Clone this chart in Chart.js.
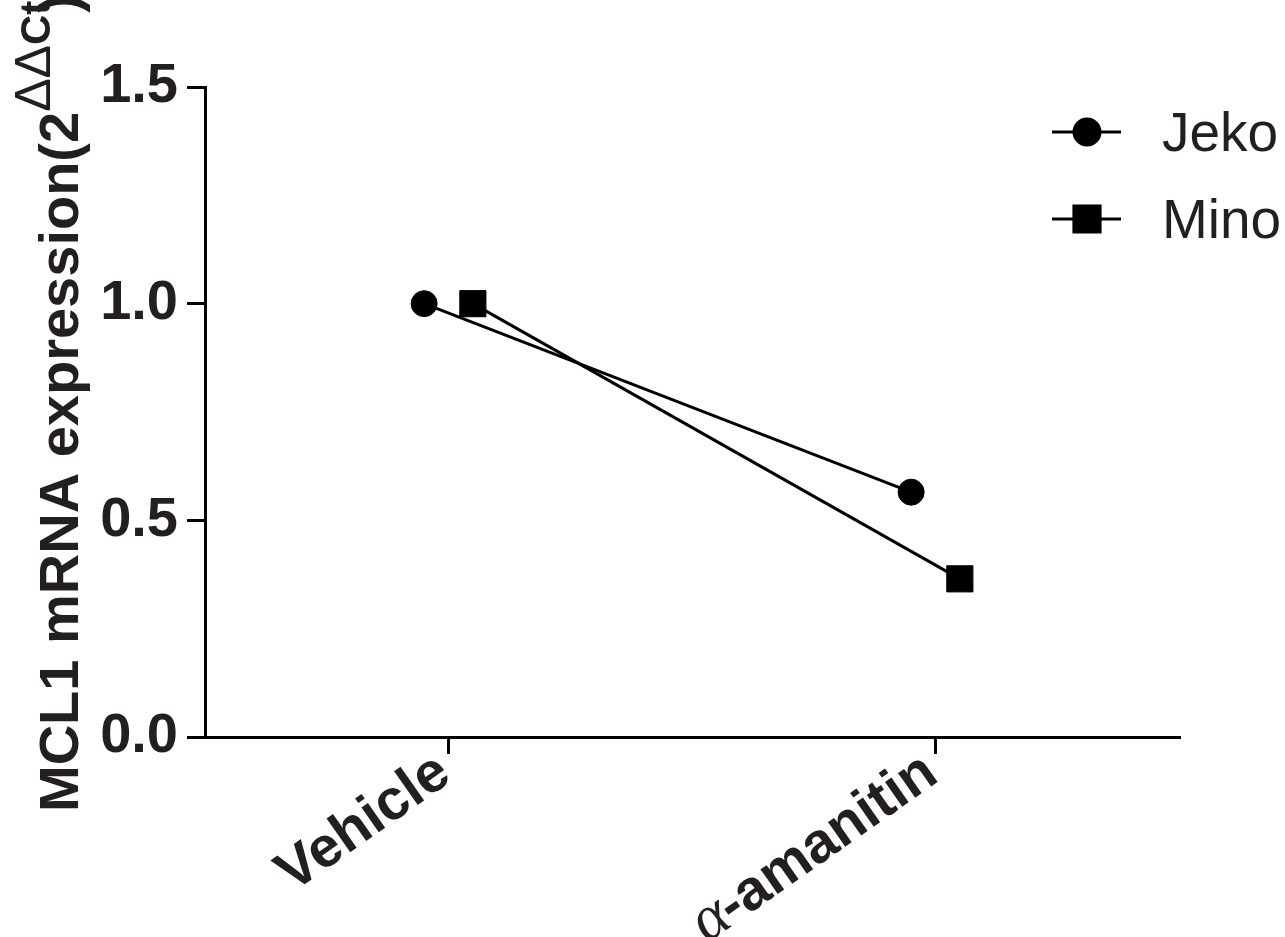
<!DOCTYPE html>
<html>
<head>
<meta charset="utf-8">
<title>MCL1 mRNA expression</title>
<script src="https://cdn.jsdelivr.net/npm/chart.js@4.4.1/dist/chart.umd.min.js"></script>
<style>
  html, body { margin: 0; padding: 0; background: #ffffff; }
  #wrap { width: 1285px; height: 937px; }
</style>
</head>
<body>
<div id="wrap"><canvas id="chart" width="1285" height="937"></canvas></div>
<script>
// Treatment groups along the x axis
const categories = ['Vehicle', 'α-amanitin'];
// Relative MCL1 mRNA expression (2^-ΔΔCt) per cell line
const seriesNames = ['Jeko', 'Mino'];
const jekoValues = [1.0, 0.565];
const minoValues = [1.0, 0.365];
// Y axis tick values
const yTickValues = [0.0, 0.5, 1.0, 1.5];

// Horizontal nudge so the two cell lines do not overlap at one category
const DODGE = 0.05;
const INK = '#231f20';
const SANS = '"Liberation Sans", Arial, Helvetica, sans-serif';

function toPoints(values, shift) {
  return values.map((v, i) => ({ x: i + shift, y: v }));
}

// Rotated y-axis title with a superscript exponent
const yTitlePlugin = {
  id: 'yTitle',
  afterDraw(chart) {
    const ctx = chart.ctx;
    ctx.save();
    ctx.translate(78, 812);
    ctx.rotate(-Math.PI / 2);
    ctx.fillStyle = INK;
    ctx.textBaseline = 'alphabetic';
    ctx.textAlign = 'left';
    let x = 0;
    const main = 'bold 56px ' + SANS;
    const supReg = '50px ' + SANS;
    const supBold = 'bold 42px ' + SANS;
    const parts = [
      { t: 'MCL1 mRNA expression', f: main, dy: 0, kern: 0 },
      { t: '(', f: main, dy: 0, kern: 0 },
      { t: '2', f: main, dy: 0, kern: 0 },
      { t: 'ΔΔ', f: supReg, dy: -28, kern: 0 },
      { t: 'Ct', f: supBold, dy: -28, kern: -12 },
      { t: ')', f: main, dy: 0, kern: 0 }
    ];
    parts.forEach(p => {
      ctx.font = p.f;
      ctx.fillText(p.t, x, p.dy);
      x += ctx.measureText(p.t).width + p.kern;
    });
    ctx.restore();
  }
};

// Slanted category labels under the x axis ticks
const xLabelPlugin = {
  id: 'xLabels',
  afterDraw(chart) {
    const ctx = chart.ctx;
    const xs = chart.scales.x;
    const baseY = chart.chartArea.bottom + 43;
    categories.forEach((label, i) => {
      const px = xs.getPixelForValue(i);
      ctx.save();
      ctx.translate(px + 5, baseY);
      ctx.rotate(-35 * Math.PI / 180);
      ctx.fillStyle = INK;
      ctx.textBaseline = 'alphabetic';
      ctx.textAlign = 'right';
      if (label.startsWith('α')) {
        const rest = label.slice(1);
        ctx.font = 'bold 57px ' + SANS;
        ctx.fillText(rest, 0, 0);
        const w = ctx.measureText(rest).width;
        ctx.font = 'italic 64px "Liberation Serif", "Times New Roman", serif';
        ctx.fillText('α', -w + 2, 0);
      } else {
        ctx.font = 'bold 57px ' + SANS;
        ctx.fillText(label, 0, 0);
      }
      ctx.restore();
    });
  }
};

// Legend: line through marker, then series name
const legendPlugin = {
  id: 'lineLegend',
  afterDraw(chart) {
    const ctx = chart.ctx;
    const x0 = 1052, x1 = 1121, cx = 1087, textX = 1162;
    const rowY = [132, 219];
    chart.data.datasets.forEach((ds, i) => {
      const y = rowY[i];
      ctx.save();
      ctx.strokeStyle = '#000';
      ctx.lineWidth = 3;
      ctx.beginPath();
      ctx.moveTo(x0, y);
      ctx.lineTo(x1, y);
      ctx.stroke();
      Chart.helpers.drawPoint(ctx, {
        pointStyle: ds.pointStyle,
        radius: ds.pointRadius,
        borderWidth: 1,
        rotation: 0
      }, cx, y);
      ctx.fillStyle = '#000';
      ctx.fill();
      ctx.fillStyle = INK;
      ctx.font = '55px ' + SANS;
      ctx.textBaseline = 'alphabetic';
      ctx.textAlign = 'left';
      ctx.fillText(ds.label, textX, y + 19);
      ctx.restore();
    });
  }
};

const pointShapes = ['circle', 'rect'];
const pointSizes = [13, 18.5];
const seriesValues = [jekoValues, minoValues];
const shifts = [-DODGE, DODGE];

new Chart(document.getElementById('chart'), {
  type: 'line',
  data: {
    datasets: seriesNames.map((name, k) => ({
      label: name,
      data: toPoints(seriesValues[k], shifts[k]),
      borderColor: '#000',
      borderWidth: 3,
      backgroundColor: '#000',
      pointBackgroundColor: '#000',
      pointBorderColor: '#000',
      pointBorderWidth: 1,
      pointStyle: pointShapes[k],
      pointRadius: pointSizes[k],
      pointHoverRadius: pointSizes[k],
      tension: 0,
      fill: false
    }))
  },
  options: {
    responsive: false,
    animation: false,
    devicePixelRatio: 1,
    layout: { padding: { left: 0, top: 87, right: 106, bottom: 0 } },
    plugins: {
      legend: { display: false },
      tooltip: { enabled: false },
      title: { display: false }
    },
    scales: {
      x: {
        type: 'linear',
        min: -0.5,
        max: 1.5,
        afterBuildTicks(scale) {
          scale.ticks = categories.map((_, i) => ({ value: i }));
        },
        afterFit(scale) { scale.height = 200; },
        ticks: { display: false },
        grid: {
          display: true,
          drawOnChartArea: false,
          drawTicks: true,
          tickLength: 17,
          lineWidth: 3,
          color: '#000'
        },
        border: { display: true, width: 3, color: '#000' }
      },
      y: {
        type: 'linear',
        min: 0,
        max: 1.5,
        afterBuildTicks(scale) {
          scale.ticks = yTickValues.map(v => ({ value: v }));
        },
        afterFit(scale) { scale.width = 205; },
        ticks: {
          padding: 9,
          color: INK,
          font: { family: SANS, size: 56, weight: 'bold' },
          callback: v => Number(v).toFixed(1)
        },
        grid: {
          display: true,
          drawOnChartArea: false,
          drawTicks: true,
          tickLength: 18,
          lineWidth: 3,
          color: '#000'
        },
        border: { display: true, width: 3, color: '#000' }
      }
    }
  },
  plugins: [yTitlePlugin, xLabelPlugin, legendPlugin]
});
</script>
</body>
</html>
